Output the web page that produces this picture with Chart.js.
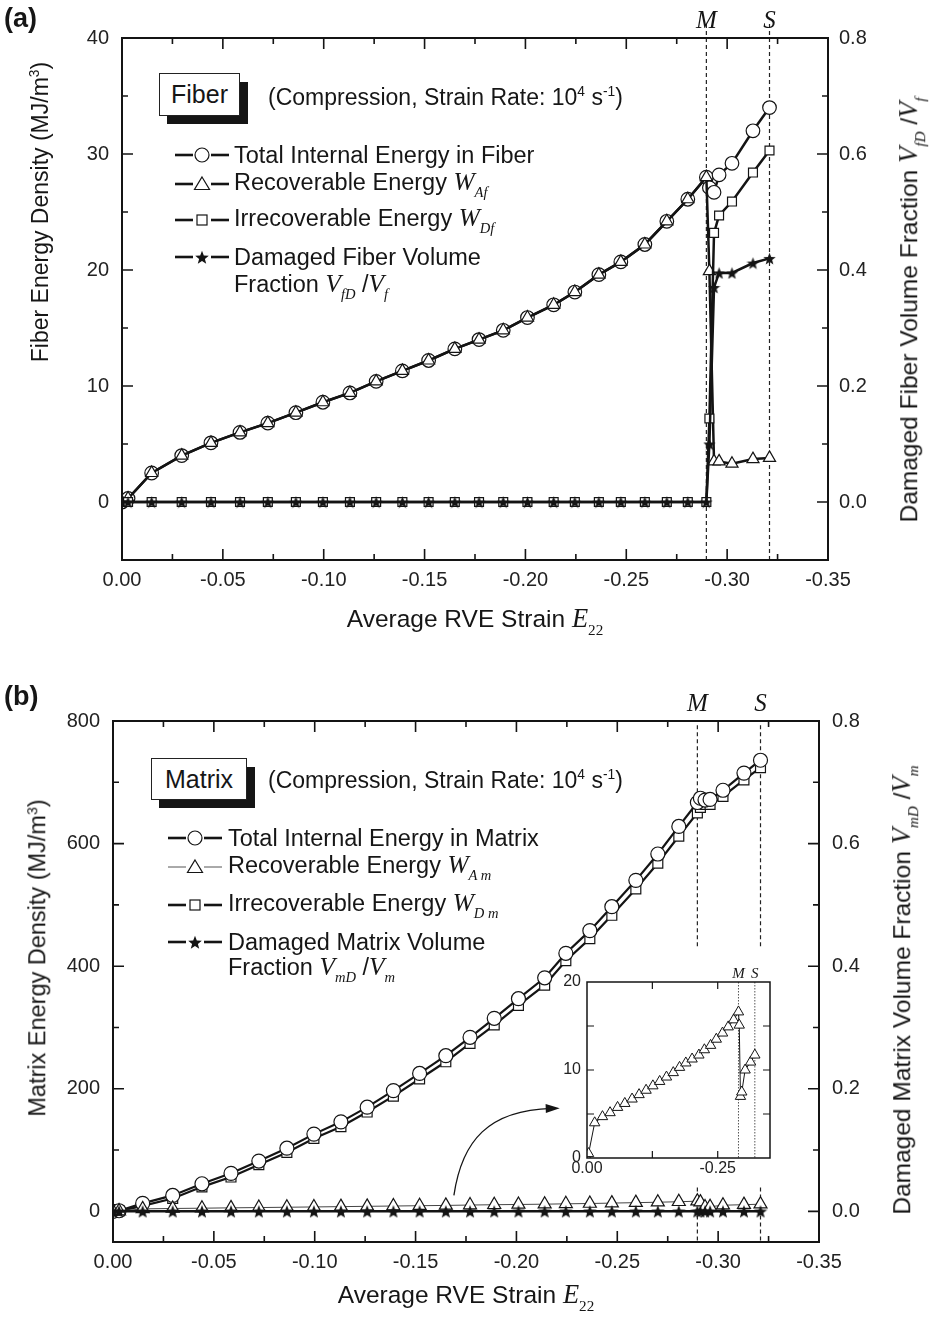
<!DOCTYPE html>
<html>
<head>
<meta charset="utf-8">
<script src="https://cdn.jsdelivr.net/npm/chart.js@4.4.0/dist/chart.umd.min.js"></script>
<style>
body { margin: 0; background: #fff; }
#page { position: relative; width: 931px; height: 1322px; background: #fff; overflow: hidden;
  font-family: "Liberation Sans", Arial, sans-serif; color: #161616; }
canvas { position: absolute; }
.abs { position: absolute; white-space: nowrap; }
.mid { transform: translateY(-50%); }
.rot { transform: translate(-50%, -50%) rotate(-90deg); }
.hcenter { transform: translate(-50%, -50%); }
.v { font-family: "Liberation Serif", "Times New Roman", serif; font-style: italic; font-size: 1.08em; }
.s { font-family: "Liberation Serif", "Times New Roman", serif; font-style: italic; font-size: 0.62em; vertical-align: -0.5em; }
.n { font-family: "Liberation Serif", "Times New Roman", serif; font-size: 0.62em; vertical-align: -0.5em; }
sup { font-size: 0.6em; vertical-align: 0.6em; }
.legend { font-size: 23.5px; }
.boxlbl { position: absolute; border: 1px solid #222; background: #fff; font-size: 25px;
  display: flex; align-items: center; justify-content: center; }
.shadow { position: absolute; background: #151515; }
.ms { font-family: "Liberation Serif", "Times New Roman", serif; font-style: italic; }
</style>
</head>
<body>
<div id="page">
  <canvas id="chartA" width="931" height="660" style="left:0;top:0"></canvas>
  <canvas id="chartB" width="931" height="662" style="left:0;top:660px"></canvas>
  <canvas id="chartInset" width="250" height="220" style="left:530px;top:960px"></canvas>

  <!-- panel (a) -->
  <div class="abs" style="left:4px;top:3px;font-size:27px;font-weight:bold">(a)</div>
  <div class="shadow" style="left:167px;top:82px;width:81px;height:42px"></div>
  <div class="boxlbl" style="left:159px;top:73px;width:79px;height:41px">Fiber</div>
  <div class="abs mid" style="left:268px;top:97px;font-size:23px">(Compression, Strain Rate: 10<sup>4</sup> s<sup>-1</sup>)</div>
  <div id="legA"></div>
  <div class="abs hcenter" style="left:475px;top:621px;font-size:24.5px">Average RVE Strain <span class="v">E</span><span class="n">22</span></div>
  <div class="abs rot" style="left:40px;top:212px;font-size:23px">Fiber Energy Density (MJ/m<sup>3</sup>)</div>
  <div class="abs rot" style="left:911px;top:310px;font-size:24.5px">Damaged Fiber Volume Fraction <span class="v">V</span><span class="s">fD</span> /<span class="v">V</span><span class="s">f</span></div>

  <!-- panel (b) -->
  <div class="abs" style="left:4px;top:681px;font-size:27px;font-weight:bold">(b)</div>
  <div class="shadow" style="left:159px;top:767px;width:96px;height:41px"></div>
  <div class="boxlbl" style="left:151px;top:758px;width:94px;height:40px">Matrix</div>
  <div class="abs mid" style="left:268px;top:780px;font-size:23px">(Compression, Strain Rate: 10<sup>4</sup> s<sup>-1</sup>)</div>
  <div id="legB"></div>
  <div class="abs hcenter" style="left:466px;top:1297px;font-size:24.5px">Average RVE Strain <span class="v">E</span><span class="n">22</span></div>
  <div class="abs rot" style="left:38px;top:958px;font-size:23.5px">Matrix Energy Density (MJ/m<sup>3</sup>)</div>
  <div class="abs rot" style="left:904px;top:990px;font-size:24.5px">Damaged Matrix Volume Fraction <span class="v">V</span><span class="s">mD</span> /<span class="v">V</span><span class="s">m</span></div>
  <div id="marks"></div>
</div>

<script>
// strain points of the RVE simulation (same steps for fiber and matrix)
const strain = [0, -0.003, -0.0147, -0.0296, -0.0441, -0.0585, -0.0723, -0.0862, -0.0996, -0.113,
  -0.126, -0.139, -0.152, -0.165, -0.177, -0.189, -0.201, -0.214, -0.2245, -0.2364,
  -0.2473, -0.2592, -0.2701, -0.2805, -0.2897, -0.2912, -0.2935, -0.2960, -0.3024, -0.3128, -0.3210];

// fiber, panel (a)
const fiberTotal = [0, 0.3, 2.5, 4.0, 5.1, 6.0, 6.8, 7.7, 8.6, 9.4,
  10.4, 11.3, 12.2, 13.2, 14.0, 14.8, 15.9, 17.0, 18.1, 19.6,
  20.7, 22.2, 24.2, 26.1, 28.0, 27.1, 26.7, 28.2, 29.2, 32.0, 34.0];
const fiberRecoverable = [0, 0.3, 2.5, 4.0, 5.1, 6.0, 6.8, 7.7, 8.6, 9.4,
  10.4, 11.3, 12.2, 13.2, 14.0, 14.8, 15.9, 17.0, 18.1, 19.6,
  20.7, 22.2, 24.2, 26.1, 28.0, 19.9, 3.5, 3.5, 3.3, 3.7, 3.8];
const fiberIrrecoverable = [0, 0, 0, 0, 0, 0, 0, 0, 0, 0,
  0, 0, 0, 0, 0, 0, 0, 0, 0, 0,
  0, 0, 0, 0, 0, 7.2, 23.2, 24.7, 25.9, 28.4, 30.3];
const fiberDamaged = [0, 0, 0, 0, 0, 0, 0, 0, 0, 0,
  0, 0, 0, 0, 0, 0, 0, 0, 0, 0,
  0, 0, 0, 0, 0, 0.10, 0.37, 0.395, 0.395, 0.412, 0.42];

// matrix, panel (b) and inset
const matrixTotal = [0, 1, 13, 26, 45, 62, 82, 103, 126, 146,
  170, 197, 225, 254, 284, 315, 347, 381, 421, 458,
  497, 540, 583, 628, 667, 674, 671, 672, 687, 715, 736];
const matrixRecoverable = [0, 0.5, 4.0, 4.7, 5.15, 5.75, 6.2, 6.7, 7.2, 7.7,
  8.2, 8.7, 9.2, 9.7, 10.3, 10.8, 11.25, 11.7, 12.3, 12.8,
  13.5, 14.2, 14.9, 15.7, 16.6, 15.1, 7.0, 7.5, 10.0, 10.9, 11.7];
const matrixIrrecoverable = [0, 0.5, 9, 21, 40, 56, 76, 96, 119, 138,
  162, 188, 216, 244, 274, 304, 336, 369, 409, 445,
  483, 526, 568, 612, 650, 659, 664, 664, 677, 704, 724];
const matrixDamaged = [0, 0, 0, 0, 0, 0, 0, 0, 0, 0,
  0, 0, 0, 0, 0, 0, 0, 0, 0, 0,
  0, 0, 0, 0, 0, 0, 0, 0, 0, 0, 0];

// M and S events
const strainM = -0.2897;
const strainS = -0.3210;

// tick labels
const strainMajor = [0, -0.05, -0.10, -0.15, -0.20, -0.25, -0.30, -0.35];
const strainMinor = [-0.025, -0.075, -0.125, -0.175, -0.225, -0.275, -0.325];
const fiberEnergyMajor = [0, 10, 20, 30, 40];
const fiberEnergyMinor = [5, 15, 25, 35];
const fractionMajor = [0, 0.2, 0.4, 0.6, 0.8];
const fractionMinor = [0.1, 0.3, 0.5, 0.7];
const matrixEnergyMajor = [0, 200, 400, 600, 800];
const matrixEnergyMinor = [100, 300, 500, 700];
const insetStrainMajor = [0, -0.25];
const insetStrainMinor = [-0.125];
const insetEnergyMajor = [0, 10, 20];
const insetEnergyMinor = [5, 15];

const FONT = '"Liberation Sans", Arial, sans-serif';
const INK = '#141414';

function pts(xs, ys) {
   return xs.map((x, i) => ({ x: x, y: ys[i] }));
}

function starImage(size) {
   const c = document.createElement('canvas');
   c.width = size; c.height = size;
   const g = c.getContext('2d');
   const R = size / 2, r = R * 0.42;
   g.beginPath();
   for (let i = 0; i < 10; i++) {
      const ang = -Math.PI / 2 + i * Math.PI / 5;
      const rad = i % 2 ? r : R;
      g.lineTo(R + rad * Math.cos(ang), R * 1.1 + rad * Math.sin(ang));
   }
   g.closePath();
   g.fillStyle = INK;
   g.fill();
   return c;
}

function ticksFrom(major, minor) {
   return major.concat(minor).sort((a, b) => a - b).map(v => ({ value: v }));
}

function axis(opts) {
   return {
      type: 'linear',
      position: opts.position,
      min: opts.min, max: opts.max,
      reverse: !!opts.reverse,
      grid: { display: false, drawTicks: false },
      border: { display: false },
      afterBuildTicks: s => { s.ticks = ticksFrom(opts.major, opts.minor); },
      ticks: {
         autoSkip: false, maxRotation: 0, padding: opts.padding,
         color: '#222', font: { family: FONT, size: opts.size },
         callback: v => opts.major.includes(v) ? v.toFixed(opts.digits) : ''
      },
      afterFit: s => {
         if (opts.position === 'bottom') s.height = opts.fit; else s.width = opts.fit;
      }
   };
}

// frame round the plot with inward ticks on all four sides
const frameTicks = {
   id: 'frameTicks',
   afterDraw(chart, args, o) {
      const { ctx, chartArea: a } = chart;
      const big = o.major, small = o.minor;
      ctx.save();
      ctx.strokeStyle = INK;
      ctx.lineWidth = o.tickWidth;
      ctx.beginPath();
      const sx = chart.scales.x;
      sx.ticks.forEach(t => {
         const p = sx.getPixelForValue(t.value);
         if (p <= a.left + 1 || p >= a.right - 1) return;
         const len = t.label ? big : small;
         ctx.moveTo(p, a.bottom); ctx.lineTo(p, a.bottom - len);
         ctx.moveTo(p, a.top); ctx.lineTo(p, a.top + len);
      });
      const sy = chart.scales.y;
      const sy2 = chart.scales.y2 || chart.scales.y;
      sy.ticks.forEach(t => {
         const p = sy.getPixelForValue(t.value);
         if (p <= a.top + 1 || p >= a.bottom - 1) return;
         const len = t.label ? big : small;
         ctx.moveTo(a.left, p); ctx.lineTo(a.left + len, p);
      });
      sy2.ticks.forEach(t => {
         const p = sy2.getPixelForValue(t.value);
         if (p <= a.top + 1 || p >= a.bottom - 1) return;
         const len = t.label ? big : small;
         ctx.moveTo(a.right, p); ctx.lineTo(a.right - len, p);
      });
      ctx.stroke();
      ctx.lineWidth = o.frameWidth;
      ctx.strokeRect(a.left, a.top, a.right - a.left, a.bottom - a.top);
      ctx.restore();
   }
};

// curved arrow pointing at the inset, given in data units
const pointerArrow = {
   id: 'pointerArrow',
   afterDraw(chart, args, o) {
      if (!o.path) return;
      const { ctx } = chart;
      const sx = chart.scales.x, sy = chart.scales.y;
      const p = o.path.map(q => [sx.getPixelForValue(q[0]), sy.getPixelForValue(q[1])]);
      ctx.save();
      ctx.strokeStyle = INK; ctx.fillStyle = INK; ctx.lineWidth = 1.3;
      ctx.beginPath();
      ctx.moveTo(p[0][0], p[0][1]);
      ctx.bezierCurveTo(p[1][0], p[1][1], p[2][0], p[2][1], p[3][0], p[3][1]);
      ctx.stroke();
      const ang = Math.atan2(p[3][1] - p[2][1], p[3][0] - p[2][0]);
      const L = 14, W = 4.5;
      const tip = [p[3][0] + 8 * Math.cos(ang), p[3][1] + 8 * Math.sin(ang)];
      ctx.beginPath();
      ctx.moveTo(tip[0], tip[1]);
      ctx.lineTo(tip[0] - L * Math.cos(ang) + W * Math.sin(ang), tip[1] - L * Math.sin(ang) - W * Math.cos(ang));
      ctx.lineTo(tip[0] - L * Math.cos(ang) - W * Math.sin(ang), tip[1] - L * Math.sin(ang) + W * Math.cos(ang));
      ctx.closePath();
      ctx.fill();
      ctx.restore();
   }
};

function series(data, style, opts) {
   return Object.assign({
      data: data, showLine: true, tension: 0,
      borderColor: INK, borderWidth: 2.5,
      pointStyle: style, pointRadius: 6,
      pointBackgroundColor: '#fff', pointBorderColor: INK, pointBorderWidth: 1.2,
      yAxisID: 'y'
   }, opts || {});
}

function guide(x, yTop, yBottom, opts) {
   return Object.assign({
      data: [{ x: x, y: yTop }, { x: x, y: yBottom }],
      showLine: true, borderColor: '#222', borderWidth: 1.2, borderDash: [4, 3],
      pointRadius: 0, clip: false, order: 20, yAxisID: 'y'
   }, opts || {});
}

const baseOptions = {
   responsive: false, animation: false, events: [],
   plugins: { legend: { display: false }, tooltip: { enabled: false } }
};

const star12 = starImage(13);
const star14 = starImage(14);

// ---------- panel (a) ----------
const chartA = new Chart(document.getElementById('chartA'), {
   type: 'scatter',
   data: {
      datasets: [
         series(pts(strain, fiberDamaged), star12, { yAxisID: 'y2', order: 0, pointBackgroundColor: INK }),
         series(pts(strain, fiberIrrecoverable), 'rect', { order: 1, pointRadius: 6.3 }),
         series(pts(strain, fiberRecoverable), 'triangle', { order: 2, pointRadius: 7 }),
         series(pts(strain, fiberTotal), 'circle', { order: 3, pointRadius: 6.8 }),
         guide(strainM, 41.2, -5),
         guide(strainS, 41.2, -5)
      ]
   },
   options: Object.assign({}, baseOptions, {
      layout: { padding: { top: 38, left: 0, right: 0, bottom: 0 } },
      scales: {
         x: axis({ position: 'bottom', min: -0.35, max: 0, reverse: true, major: strainMajor, minor: strainMinor,
            digits: 2, size: 20, padding: 8, fit: 100 }),
         y: axis({ position: 'left', min: -5, max: 40, major: fiberEnergyMajor, minor: fiberEnergyMinor,
            digits: 0, size: 20, padding: 13, fit: 122 }),
         y2: axis({ position: 'right', min: -0.1, max: 0.8, major: fractionMajor, minor: fractionMinor,
            digits: 1, size: 20, padding: 11, fit: 103 })
      },
      plugins: Object.assign({}, baseOptions.plugins, {
         frameTicks: { major: 11, minor: 6, tickWidth: 1.6, frameWidth: 2 }
      })
   }),
   plugins: [frameTicks]
});

// ---------- panel (b) ----------
const chartB = new Chart(document.getElementById('chartB'), {
   type: 'scatter',
   data: {
      datasets: [
         series(pts(strain, matrixDamaged), star14, { yAxisID: 'y2', order: 0, borderWidth: 2.5 }),
         series(pts(strain, matrixRecoverable), 'triangle', { order: 1, pointRadius: 7.5, borderWidth: 1, borderColor: '#444' }),
         series(pts(strain, matrixTotal), 'circle', { order: 2, pointRadius: 7, borderWidth: 2.2 }),
         series(pts(strain, matrixIrrecoverable), 'rect', { order: 3, pointRadius: 7, borderWidth: 2.2 }),
         guide(strainM, 793, 429),
         guide(strainS, 793, 429),
         guide(strainM, 39, -50),
         guide(strainS, 39, -50)
      ]
   },
   options: Object.assign({}, baseOptions, {
      layout: { padding: { top: 61, left: 0, right: 0, bottom: 0 } },
      scales: {
         x: axis({ position: 'bottom', min: -0.35, max: 0, reverse: true, major: strainMajor, minor: strainMinor,
            digits: 2, size: 20, padding: 8, fit: 80 }),
         y: axis({ position: 'left', min: -50, max: 800, major: matrixEnergyMajor, minor: matrixEnergyMinor,
            digits: 0, size: 20, padding: 13, fit: 113 }),
         y2: axis({ position: 'right', min: -0.05, max: 0.8, major: fractionMajor, minor: fractionMinor,
            digits: 1, size: 20, padding: 13, fit: 112 })
      },
      plugins: Object.assign({}, baseOptions.plugins, {
         frameTicks: { major: 11, minor: 6, tickWidth: 1.6, frameWidth: 2 },
         pointerArrow: { path: [[-0.169, 26], [-0.1730, 116], [-0.1863, 165], [-0.2175, 168]] }
      })
   }),
   plugins: [frameTicks, pointerArrow]
});

// ---------- inset of (b): recoverable matrix energy ----------
const chartInset = new Chart(document.getElementById('chartInset'), {
   type: 'scatter',
   data: {
      datasets: [
         series(pts(strain, matrixRecoverable), 'triangle', { order: 0, pointRadius: 6, borderWidth: 1, pointBorderWidth: 1 }),
         guide(strainM, 20, 0, { borderDash: [1.5, 1.5], borderWidth: 1, borderColor: '#555' }),
         guide(strainS, 20, 0, { borderDash: [1.5, 1.5], borderWidth: 1, borderColor: '#555' })
      ]
   },
   options: Object.assign({}, baseOptions, {
      layout: { padding: { top: 22, left: 0, right: 10, bottom: 0 } },
      scales: {
         x: axis({ position: 'bottom', min: -0.35, max: 0, reverse: true, major: insetStrainMajor, minor: insetStrainMinor,
            digits: 2, size: 16, padding: 1, fit: 22 }),
         y: axis({ position: 'left', min: 0, max: 20, major: insetEnergyMajor, minor: insetEnergyMinor,
            digits: 0, size: 16, padding: 6, fit: 57 })
      },
      plugins: Object.assign({}, baseOptions.plugins, {
         frameTicks: { major: 7, minor: 7, tickWidth: 1.2, frameWidth: 1.5 }
      })
   }),
   plugins: [frameTicks]
});

// ---------- legends ----------
function symbol(kind, thin) {
   const w = 54, h = 20, c = 27, y = 10;
   const lw = thin ? 1 : 2.6, col = thin ? '#555' : INK;
   let m = '';
   if (kind === 'circle') m = `<circle cx="${c}" cy="${y}" r="7" fill="#fff" stroke="${INK}" stroke-width="1.2"/>`;
   if (kind === 'triangle') m = `<polygon points="${c},${y - 7} ${c + 7.5},${y + 5.5} ${c - 7.5},${y + 5.5}" fill="#fff" stroke="${INK}" stroke-width="1.2"/>`;
   if (kind === 'rect') m = `<rect x="${c - 5}" y="${y - 5}" width="10" height="10" fill="#fff" stroke="${INK}" stroke-width="1.2"/>`;
   if (kind === 'star') {
      let p = [];
      for (let i = 0; i < 10; i++) {
         const ang = -Math.PI / 2 + i * Math.PI / 5, rad = i % 2 ? 3 : 7.2;
         p.push((c + rad * Math.cos(ang)).toFixed(1) + ',' + (y + 1 + rad * Math.sin(ang)).toFixed(1));
      }
      m = `<polygon points="${p.join(' ')}" fill="${INK}"/>`;
   }
   return `<svg width="${w}" height="${h}" style="position:absolute;left:0;top:0">` +
      `<line x1="0" y1="${y}" x2="${c - 9}" y2="${y}" stroke="${col}" stroke-width="${lw}"/>` +
      `<line x1="${c + 9}" y1="${y}" x2="${w}" y2="${y}" stroke="${col}" stroke-width="${lw}"/>` + m + '</svg>';
}

function legend(el, symX, textX, rows) {
   let html = '';
   rows.forEach(r => {
      if (r.kind) {
         html += `<div style="position:absolute;left:${symX}px;top:${r.y - 10}px;width:54px;height:20px">${symbol(r.kind, r.thin)}</div>`;
      }
      html += `<div class="abs mid legend" style="left:${textX}px;top:${r.y}px">${r.html}</div>`;
   });
   document.getElementById(el).innerHTML = html;
}

legend('legA', 175, 234, [
   { y: 155, kind: 'circle', html: 'Total Internal Energy in Fiber' },
   { y: 184, kind: 'triangle', html: 'Recoverable Energy <span class="v">W</span><span class="s">Af</span>' },
   { y: 220, kind: 'rect', html: 'Irrecoverable Energy <span class="v">W</span><span class="s">Df</span>' },
   { y: 257, kind: 'star', html: 'Damaged Fiber Volume' },
   { y: 286, html: 'Fraction <span class="v">V</span><span class="s">fD</span> /<span class="v">V</span><span class="s">f</span>' }
]);

legend('legB', 168, 228, [
   { y: 838, kind: 'circle', html: 'Total Internal Energy in Matrix' },
   { y: 867, kind: 'triangle', thin: true, html: 'Recoverable Energy <span class="v">W</span><span class="s">A m</span>' },
   { y: 905, kind: 'rect', html: 'Irrecoverable Energy <span class="v">W</span><span class="s">D m</span>' },
   { y: 942, kind: 'star', html: 'Damaged Matrix Volume' },
   { y: 969, html: 'Fraction <span class="v">V</span><span class="s">mD</span> /<span class="v">V</span><span class="s">m</span>' }
]);

// M and S labels above the guide lines
function markLabels(chart, topPx, size) {
   let html = '';
   [['M', strainM], ['S', strainS]].forEach(m => {
      const x = chart.scales.x.getPixelForValue(m[1]) + (chart.canvas.offsetLeft || 0);
      html += `<div class="abs ms hcenter" style="left:${x}px;top:${topPx}px;font-size:${size}px">${m[0]}</div>`;
   });
   return html;
}
document.getElementById('marks').innerHTML =
   markLabels(chartA, 20, 25) +
   markLabels(chartB, 703, 25) +
   markLabels(chartInset, 973, 15);
</script>
</body>
</html>
